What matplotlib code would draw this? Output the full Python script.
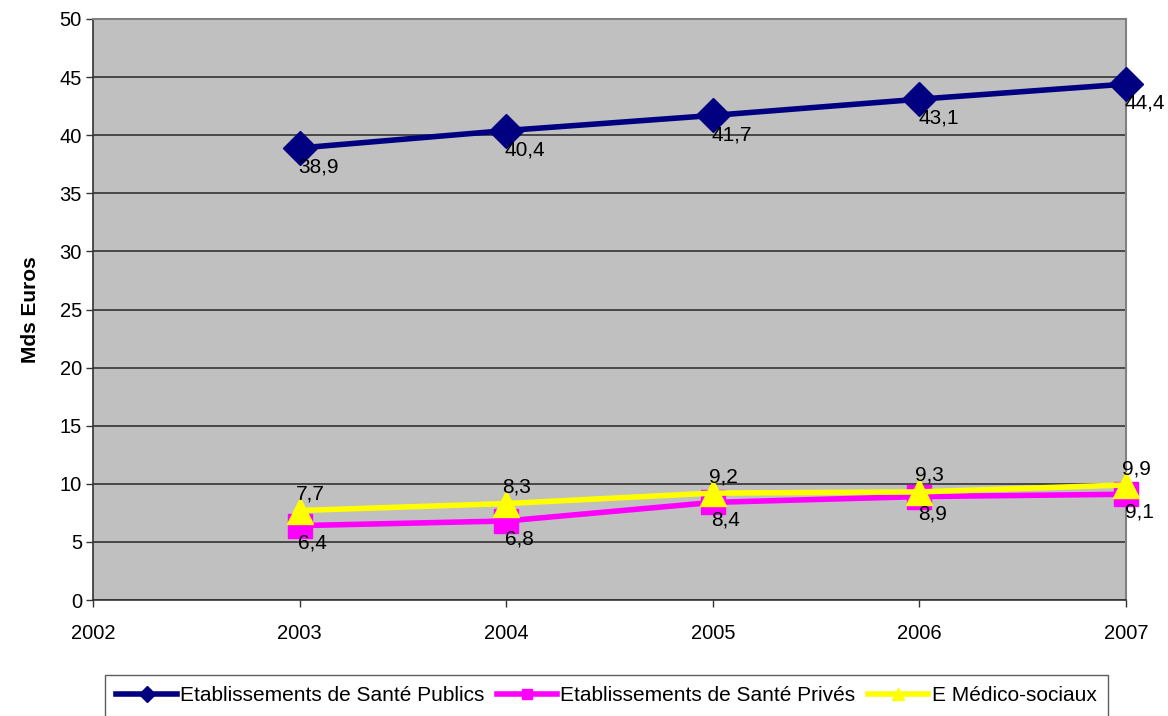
import matplotlib
matplotlib.use("Agg")
import matplotlib.pyplot as plt

years = [2003, 2004, 2005, 2006, 2007]
publics = [38.9, 40.4, 41.7, 43.1, 44.4]
prives = [6.4, 6.8, 8.4, 8.9, 9.1]
medico = [7.7, 8.3, 9.2, 9.3, 9.9]
names = ["Etablissements de Santé Publics", "Etablissements de Santé Privés", "E Médico-sociaux"]

plt.rcParams['font.family'] = ['Liberation Sans', 'DejaVu Sans']

fig = plt.figure(figsize=(11.68, 7.16), dpi=100)
ax = fig.add_axes([93/1168, 1-600/716, (1126-93)/1168, (600-19)/716])
ax.set_facecolor('#C0C0C0')

l1, = ax.plot(years, publics, color='#000080', lw=4, marker='D', ms=17, zorder=3, label=names[0], clip_on=False)
l2, = ax.plot(years, prives, color='#FF00FF', lw=4, marker='s', ms=17, zorder=4, label=names[1], clip_on=False)
l3, = ax.plot(years, medico, color='#FFFF00', lw=4, marker='^', ms=19, zorder=5, label=names[2], clip_on=False)

def fmt(v):
    return f"{v:.1f}".replace('.', ',')

for x, v in zip(years, publics):
    ax.annotate(fmt(v), (x, v), xytext=(-1, -7), textcoords='offset points',
                ha='left', va='top', fontsize=15, zorder=6)
for x, v in zip(years, prives):
    ax.annotate(fmt(v), (x, v), xytext=(-1, -6), textcoords='offset points',
                ha='left', va='top', fontsize=15, zorder=6)
for x, v in zip(years, medico):
    ax.annotate(fmt(v), (x, v), xytext=(-3, 5), textcoords='offset points',
                ha='left', va='bottom', fontsize=15, zorder=6)

ax.set_xlim(2002, 2007)
ax.set_ylim(0, 50)
ax.set_xticks([2002, 2003, 2004, 2005, 2006, 2007])
ax.set_yticks(range(0, 51, 5))
ax.tick_params(axis='both', labelsize=14.5, direction='out', length=5, width=1, color='#333333')
ax.tick_params(axis='x', pad=12)
ax.tick_params(axis='y', pad=3)
ax.grid(axis='y', color='#333333', lw=1.2)
ax.set_axisbelow(True)
for s in ['left', 'bottom']:
    ax.spines[s].set_color('#333333')
    ax.spines[s].set_linewidth(1.2)
for s in ['top', 'right']:
    ax.spines[s].set_color('#808080')
    ax.spines[s].set_linewidth(1.5)

ax.set_ylabel('Mds Euros', fontsize=15, fontweight='bold', labelpad=14)

leg = fig.legend(handles=[l1, l2, l3], loc='upper left', bbox_to_anchor=(105/1168, 1-675/716),
                 ncol=3, fontsize=15, frameon=True, fancybox=False, handlelength=2.9,
                 handletextpad=0.15, columnspacing=0.6, borderpad=0.55, borderaxespad=0,
                 markerscale=0.45)
leg.get_frame().set_edgecolor('#333333')
leg.get_frame().set_linewidth(1.0)

fig.savefig('out.png', dpi=100)
